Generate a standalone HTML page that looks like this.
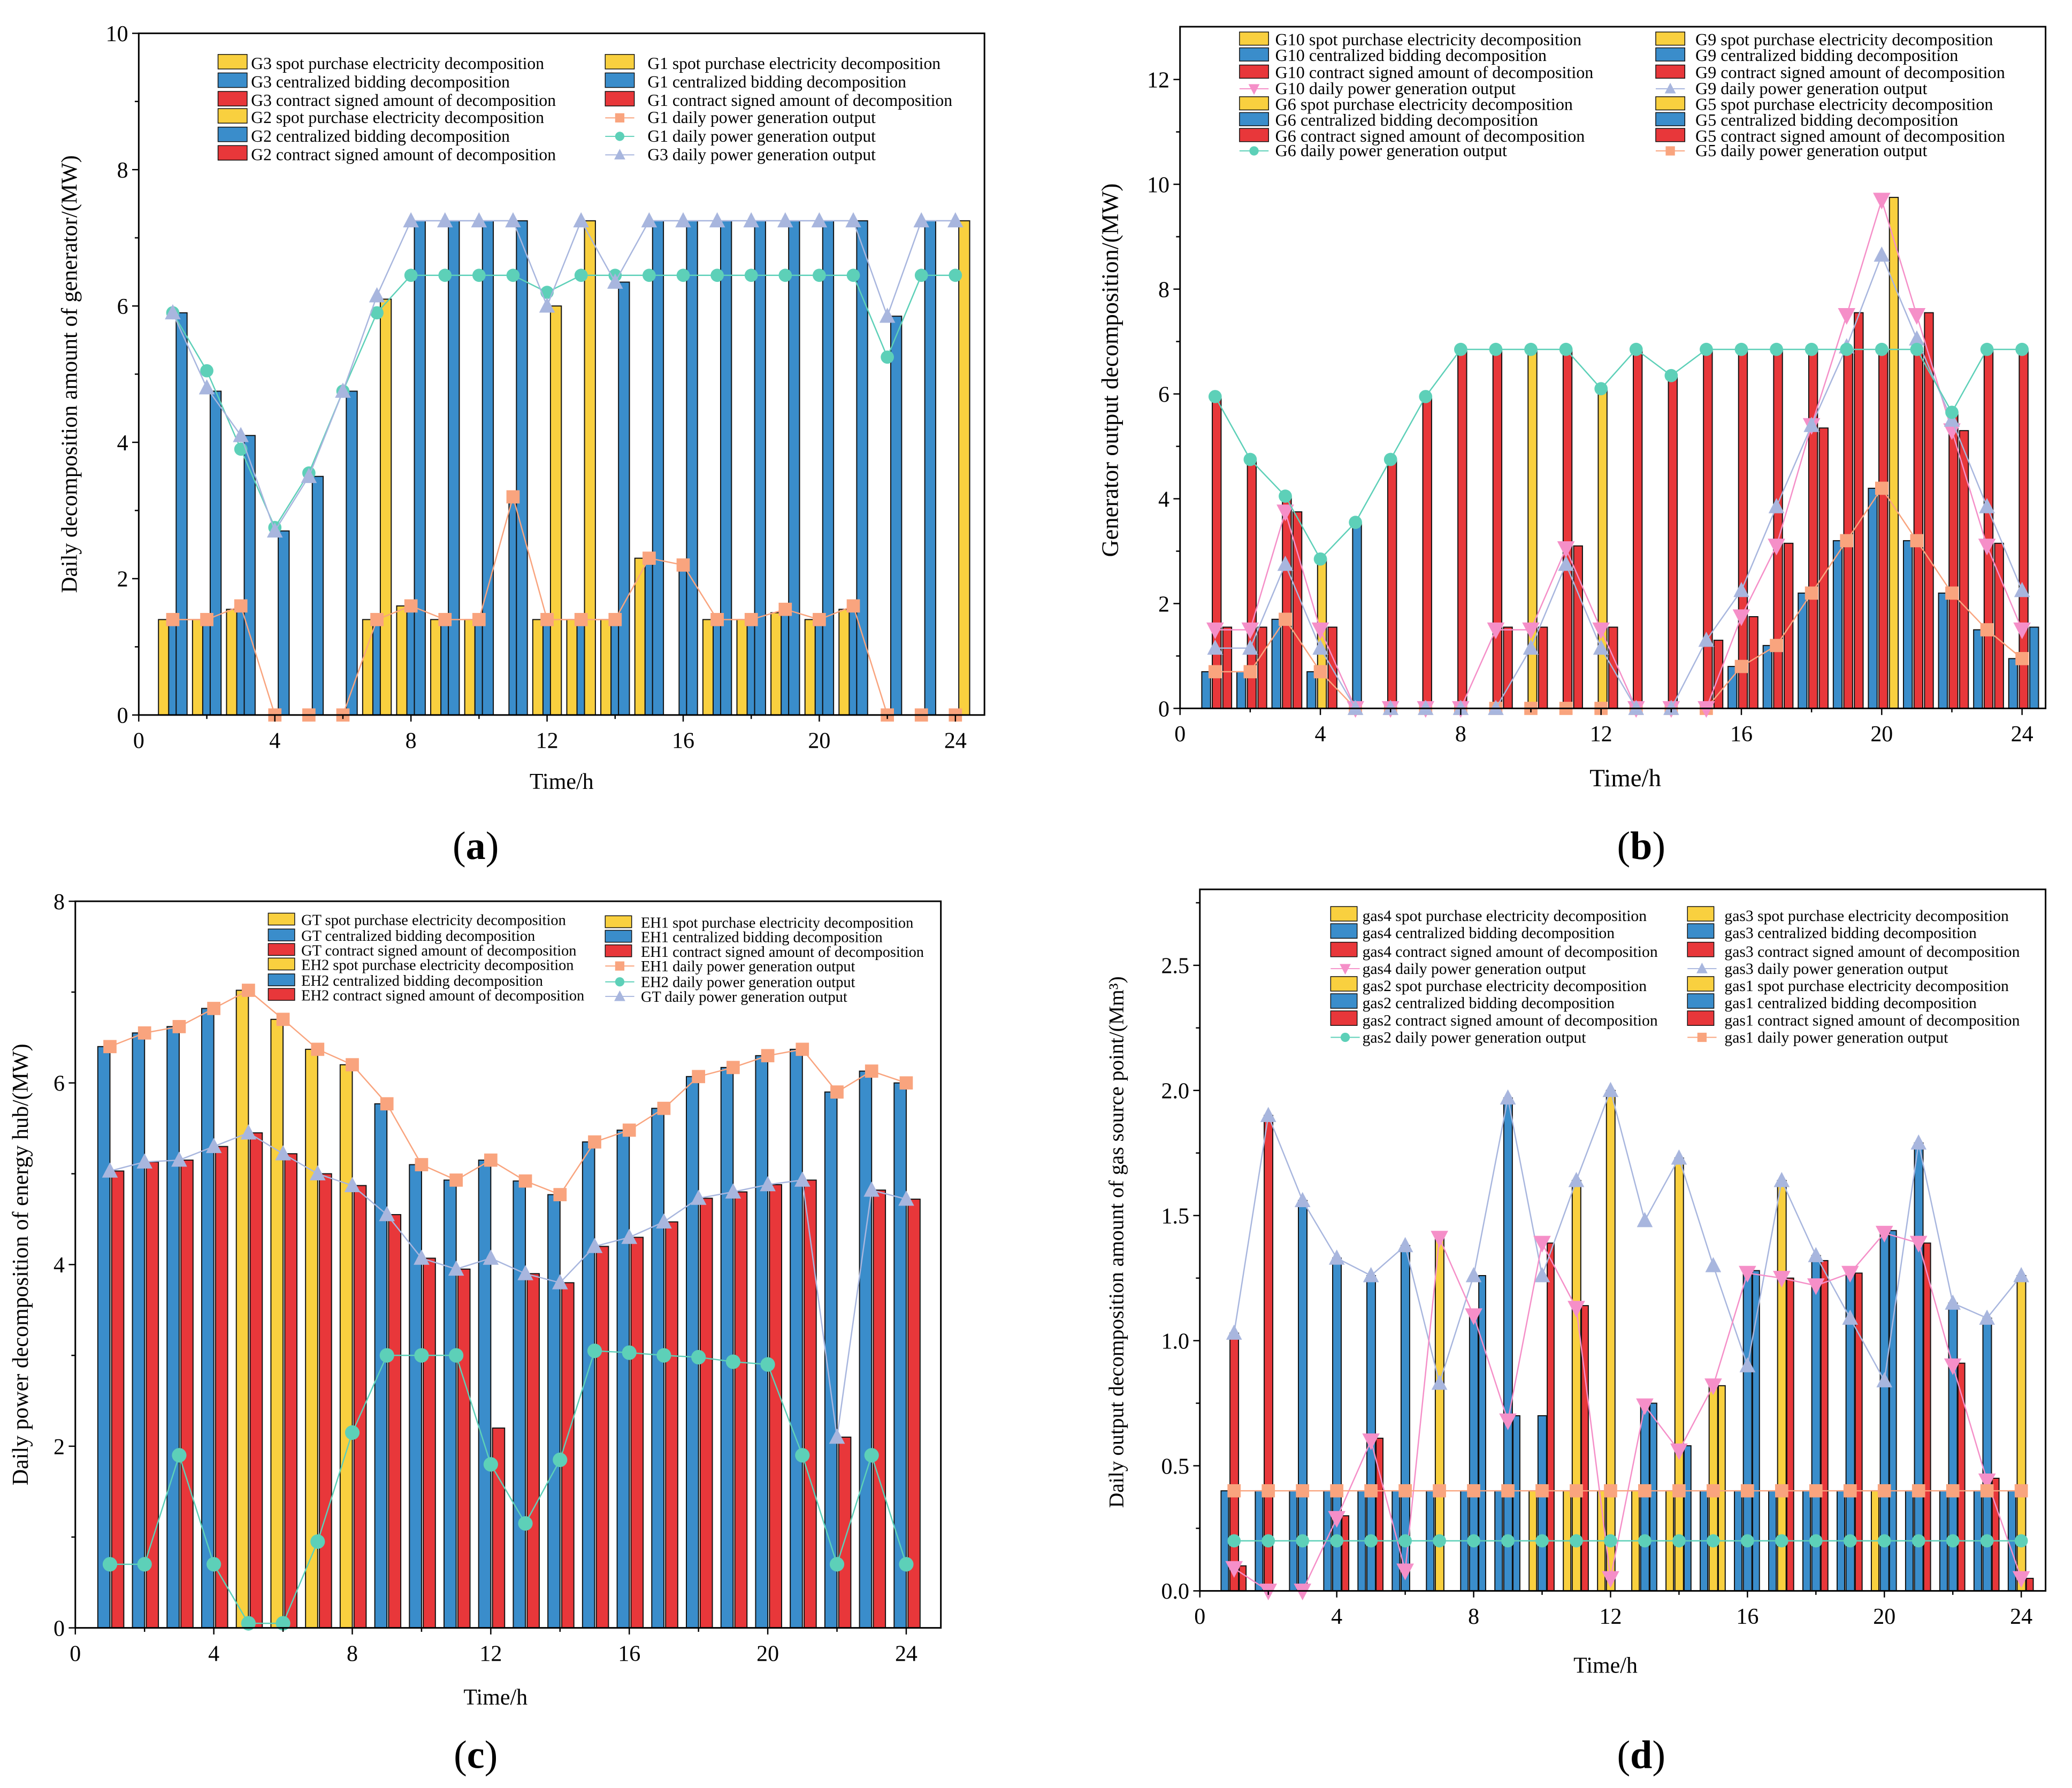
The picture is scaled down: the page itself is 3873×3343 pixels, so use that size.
<!DOCTYPE html>
<html><head><meta charset="utf-8">
<style>
html,body{margin:0;padding:0;background:#fff;}
svg{display:block;font-family:"Liberation Serif",serif;}
</style></head>
<body>
<svg id="s" xmlns="http://www.w3.org/2000/svg" width="3873" height="3343" viewBox="0 0 1568 1353">
<rect width="1568" height="1353" fill="#fff"/>
<g id="plots"></g>
<g font-size="17" fill="#000">
<text x="425" y="597" text-anchor="middle">Time/h</text>
<text x="1230" y="595" text-anchor="middle" font-size="19">Time/h</text>
<text x="375" y="1290" text-anchor="middle">Time/h</text>
<text x="1215" y="1266" text-anchor="middle">Time/h</text>
<text transform="translate(58,283) rotate(-90)" text-anchor="middle">Daily decomposition amount of generator/(MW)</text>
<text transform="translate(846,280) rotate(-90)" text-anchor="middle" font-size="18">Generator output decomposition/(MW)</text>
<text transform="translate(21,957) rotate(-90)" text-anchor="middle">Daily power decomposition of energy hub/(MW)</text>
<text transform="translate(850,940) rotate(-90)" text-anchor="middle" font-size="16">Daily output decomposition amount of gas source point/(Mm³)</text>
</g>
<g font-size="30" text-anchor="middle">
<text x="360" y="650">(<tspan font-weight="bold">a</tspan>)</text>
<text x="1242" y="650">(<tspan font-weight="bold">b</tspan>)</text>
<text x="360" y="1338">(<tspan font-weight="bold">c</tspan>)</text>
<text x="1242" y="1338">(<tspan font-weight="bold">d</tspan>)</text>
</g>
<g font-size="13">
<g font-size="12.8">
<text x="190" y="52">G3 spot purchase electricity decomposition</text>
<text x="190" y="66">G3 centralized bidding decomposition</text>
<text x="190" y="80">G3 contract signed amount of decomposition</text>
<text x="190" y="93">G2 spot purchase electricity decomposition</text>
<text x="190" y="107">G2 centralized bidding decomposition</text>
<text x="190" y="121">G2 contract signed amount of decomposition</text>
<text x="490" y="52">G1 spot purchase electricity decomposition</text>
<text x="490" y="66">G1 centralized bidding decomposition</text>
<text x="490" y="80">G1 contract signed amount of decomposition</text>
<text x="490" y="93">G1 daily power generation output</text>
<text x="490" y="107">G1 daily power generation output</text>
<text x="490" y="121">G3 daily power generation output</text>
</g>
<g font-size="13">
<text x="965" y="34">G10 spot purchase electricity decomposition</text>
<text x="965" y="46">G10 centralized bidding decomposition</text>
<text x="965" y="59">G10 contract signed amount of decomposition</text>
<text x="965" y="71">G10 daily power generation output</text>
<text x="965" y="83">G6 spot purchase electricity decomposition</text>
<text x="965" y="95">G6 centralized bidding decomposition</text>
<text x="965" y="107">G6 contract signed amount of decomposition</text>
<text x="965" y="118">G6 daily power generation output</text>
<text x="1283" y="34">G9 spot purchase electricity decomposition</text>
<text x="1283" y="46">G9 centralized bidding decomposition</text>
<text x="1283" y="59">G9 contract signed amount of decomposition</text>
<text x="1283" y="71">G9 daily power generation output</text>
<text x="1283" y="83">G5 spot purchase electricity decomposition</text>
<text x="1283" y="95">G5 centralized bidding decomposition</text>
<text x="1283" y="107">G5 contract signed amount of decomposition</text>
<text x="1283" y="118">G5 daily power generation output</text>
</g>
<g font-size="11.5">
<text x="228" y="700">GT spot purchase electricity decomposition</text>
<text x="228" y="712">GT centralized bidding decomposition</text>
<text x="228" y="723">GT contract signed amount of decomposition</text>
<text x="228" y="734">EH2 spot purchase electricity decomposition</text>
<text x="228" y="746">EH2 centralized bidding decomposition</text>
<text x="228" y="757">EH2 contract signed amount of decomposition</text>
<text x="485" y="702">EH1 spot purchase electricity decomposition</text>
<text x="485" y="713">EH1 centralized bidding decomposition</text>
<text x="485" y="724">EH1 contract signed amount of decomposition</text>
<text x="485" y="735">EH1 daily power generation output</text>
<text x="485" y="747">EH2 daily power generation output</text>
<text x="485" y="758">GT daily power generation output</text>
</g>
<g font-size="12">
<text x="1031" y="697">gas4 spot purchase electricity decomposition</text>
<text x="1031" y="710">gas4 centralized bidding decomposition</text>
<text x="1031" y="724">gas4 contract signed amount of decomposition</text>
<text x="1031" y="737">gas4 daily power generation output</text>
<text x="1031" y="750">gas2 spot purchase electricity decomposition</text>
<text x="1031" y="763">gas2 centralized bidding decomposition</text>
<text x="1031" y="776">gas2 contract signed amount of decomposition</text>
<text x="1031" y="789">gas2 daily power generation output</text>
<text x="1305" y="697">gas3 spot purchase electricity decomposition</text>
<text x="1305" y="710">gas3 centralized bidding decomposition</text>
<text x="1305" y="724">gas3 contract signed amount of decomposition</text>
<text x="1305" y="737">gas3 daily power generation output</text>
<text x="1305" y="750">gas1 spot purchase electricity decomposition</text>
<text x="1305" y="763">gas1 centralized bidding decomposition</text>
<text x="1305" y="776">gas1 contract signed amount of decomposition</text>
<text x="1305" y="789">gas1 daily power generation output</text>
</g>
</g>
<g id="leg"></g>
</svg>
<script>
var NS="http://www.w3.org/2000/svg";
var P=document.getElementById('plots'),L=document.getElementById('leg');
function el(p,n,a){var e=document.createElementNS(NS,n);for(var k in a)e.setAttribute(k,a[k]);p.appendChild(e);return e;}
var Y="#F9D03F",B="#3A8DCB",R="#E8373A",O="#F9A47E",G="#5DD0B8",T="#A8B6DE",K="#F58FC8";
function marker(g,sh,c,x,y,s){
 if(sh=='sq')el(g,'rect',{x:x-s,y:y-s,width:2*s,height:2*s,fill:c});
 else if(sh=='ci')el(g,'circle',{cx:x,cy:y,r:s,fill:c});
 else if(sh=='tu')el(g,'polygon',{points:(x-s*1.2)+','+(y+s)+' '+(x+s*1.2)+','+(y+s)+' '+x+','+(y-s*1.3),fill:c});
 else el(g,'polygon',{points:(x-s*1.2)+','+(y-s)+' '+(x+s*1.2)+','+(y-s)+' '+x+','+(y+s*1.3),fill:c});
}
function panel(c){
 var g=el(P,'g',{});
 var X=function(t){return c.x0+t*c.px;},Yv=function(v){return c.y0-v*c.py;};
 c.bars.forEach(function(b){
  b.v.forEach(function(v,i){var t=i+1;if(v<=0)return;
   var col=(b.col&&b.col[t])||b.c;
   el(g,'rect',{x:X(t+b.o),y:Yv(v),width:b.w*c.px,height:v*c.py,fill:col,stroke:'#111','stroke-width':0.8});});
 });
 c.lines.forEach(function(l){
  var pts=l.v.map(function(v,i){return X(i+1)+','+Yv(v);}).join(' ');
  el(g,'polyline',{points:pts,fill:'none',stroke:l.c,'stroke-width':1});
  l.v.forEach(function(v,i){marker(g,l.m,l.c,X(i+1),Yv(v),l.s||5);});
 });
 el(g,'rect',{x:c.x0,y:c.top,width:c.x1-c.x0,height:c.y0-c.top,fill:'none',stroke:'#000','stroke-width':1.2});
 for(var t=0;t<=24;t+=4){el(g,'line',{x1:X(t),x2:X(t),y1:c.y0,y2:c.y0+5,stroke:'#000'});
  var tx=el(g,'text',{x:X(t),y:c.y0+25,'text-anchor':'middle','font-size':17});tx.textContent=t;}
 for(var t=2;t<=24;t+=4)el(g,'line',{x1:X(t),x2:X(t),y1:c.y0,y2:c.y0+3,stroke:'#000'});
 c.yt.forEach(function(v){el(g,'line',{x1:c.x0-5,x2:c.x0,y1:Yv(v),y2:Yv(v),stroke:'#000'});
  var tx=el(g,'text',{x:c.x0-8,y:Yv(v)+6,'text-anchor':'end','font-size':17});tx.textContent=c.fmt?c.fmt(v):v;});
 (c.ym||[]).forEach(function(v){el(g,'line',{x1:c.x0-3,x2:c.x0,y1:Yv(v),y2:Yv(v),stroke:'#000'});});
}
var a3=[5.9,4.75,4.1,2.7,3.5,4.75,6.1,7.25,7.25,7.25,7.25,6.0,7.25,6.35,7.25,7.25,7.25,7.25,7.25,7.25,7.25,5.85,7.25,7.25];
var aO=[1.4,1.4,1.6,0,0,0,1.4,1.6,1.4,1.4,3.2,1.4,1.4,1.4,2.3,2.2,1.4,1.4,1.55,1.4,1.6,0,0,0];
panel({x0:105,x1:745,top:25,y0:541,px:25.75,py:51.6,yt:[0,2,4,6,8,10],ym:[1,3,5,7,9],
 bars:[{o:-0.42,w:0.3,c:Y,v:[1.4,1.4,1.55,0,0,0,1.4,1.6,1.4,1.4,0,1.4,1.4,1.4,2.3,0,1.4,1.4,1.5,1.4,1.55,0,0,0]},
 {o:-0.12,w:0.22,c:B,v:aO},
 {o:0.1,w:0.32,c:B,v:a3,col:{7:Y,12:Y,13:Y,24:Y}}],
 lines:[{c:O,m:'sq',v:aO},
 {c:G,m:'ci',v:[5.9,5.05,3.9,2.75,3.55,4.75,5.9,6.45,6.45,6.45,6.45,6.2,6.45,6.45,6.45,6.45,6.45,6.45,6.45,6.45,6.45,5.25,6.45,6.45]},
 {c:T,m:'tu',v:[5.9,4.8,4.1,2.7,3.5,4.75,6.15,7.25,7.25,7.25,7.25,6.0,7.25,6.35,7.25,7.25,7.25,7.25,7.25,7.25,7.25,5.85,7.25,7.25]}]});
var b5=[0.7,0.7,1.7,0.7,0,0,0,0,0,0,0,0,0,0,0,0.8,1.2,2.2,3.2,4.2,3.2,2.2,1.5,0.95];
var b6=[5.95,4.75,4.05,2.85,3.55,4.75,5.95,6.85,6.85,6.85,6.85,6.1,6.85,6.35,6.85,6.85,6.85,6.85,6.85,6.85,6.85,5.65,6.85,6.85];
panel({x0:893,x1:1548,top:20,y0:536,px:26.55,py:39.67,yt:[0,2,4,6,8,10,12],ym:[1,3,5,7,9,11],
 bars:[{o:-0.38,w:0.25,c:B,v:b5},
 {o:-0.08,w:0.25,c:R,v:b6,col:{4:Y,5:B,10:Y,12:Y}},
 {o:0.22,w:0.25,c:R,v:[1.55,1.55,3.75,1.55,0,0,0,0,1.55,1.55,3.1,1.55,0,0,1.3,1.75,3.15,5.35,7.55,9.75,7.55,5.3,3.15,1.55],col:{20:Y,24:B}}],
 lines:[{c:O,m:'sq',v:b5},
 {c:K,m:'td',s:5.5,v:[1.5,1.5,3.75,1.5,0,0,0,0,1.5,1.5,3.05,1.5,0,0,0,1.75,3.1,5.4,7.5,9.7,7.5,5.3,3.1,1.5]},
 {c:T,m:'tu',v:[1.15,1.15,2.75,1.15,0,0,0,0,0,1.15,2.75,1.15,0,0,1.3,2.25,3.85,5.4,6.9,8.65,7.05,5.5,3.85,2.25]},
 {c:G,m:'ci',v:b6}]});
var c1=[6.4,6.55,6.62,6.82,7.02,6.7,6.37,6.2,5.77,5.1,4.93,5.15,4.92,4.77,5.35,5.48,5.72,6.07,6.17,6.3,6.37,5.9,6.13,6.0];
var cT=[5.03,5.13,5.15,5.3,5.45,5.22,5.0,4.87,4.55,4.07,3.95,4.07,3.9,3.8,4.2,4.3,4.47,4.73,4.8,4.88,4.93,2.1,4.82,4.72];
panel({x0:57,x1:712,top:682,y0:1232,px:26.2,py:68.75,yt:[0,2,4,6,8],ym:[1,3,5,7],
 bars:[{o:-0.35,w:0.35,c:B,v:c1,col:{5:Y,6:Y,7:Y,8:Y}},
 {o:0.05,w:0.35,c:R,v:[5.03,5.13,5.15,5.3,5.45,5.22,5.0,4.87,4.55,4.07,3.95,2.2,3.9,3.8,4.2,4.3,4.47,4.73,4.8,4.88,4.93,2.1,4.82,4.72]}],
 lines:[{c:O,m:'sq',v:c1},{c:T,m:'tu',v:cT},
 {c:G,m:'ci',s:5.5,v:[0.7,0.7,1.9,0.7,0.05,0.05,0.95,2.15,3.0,3.0,3.0,1.8,1.15,1.85,3.05,3.03,3.0,2.98,2.93,2.9,1.9,0.7,1.9,0.7]}]});
var d3=[1.03,1.9,1.56,1.33,1.26,1.38,0.83,1.26,1.97,1.26,1.64,2.0,1.48,1.73,1.3,0.9,1.64,1.34,1.09,0.84,1.79,1.15,1.09,1.26];
var d4=[0.09,0.0,0.0,0.29,0.6,0.08,1.41,1.1,0.68,1.39,1.13,0.05,0.74,0.56,0.82,1.27,1.25,1.22,1.27,1.43,1.39,0.9,0.44,0.05];
var f4=[];for(var i=0;i<24;i++)f4.push(0.4);
var f2=[];for(var i=0;i<24;i++)f2.push(0.2);
panel({x0:908,x1:1548,top:673,y0:1204,px:25.9,py:189.4,yt:[0,0.5,1,1.5,2,2.5],ym:[0.25,0.75,1.25,1.75,2.25,2.75],fmt:function(v){return v.toFixed(1);},
 bars:[{o:-0.38,w:0.22,c:B,v:f4,col:{10:Y,11:Y,12:Y,13:Y,14:Y,20:Y}},
 {o:-0.12,w:0.25,c:B,v:[1.03,1.9,1.56,1.33,1.26,1.38,1.42,1.12,1.97,0.7,1.64,2.0,0.75,1.73,0.82,1.28,1.64,1.34,1.27,1.44,1.79,1.15,1.09,1.26],col:{1:R,2:R,7:Y,11:Y,12:Y,14:Y,15:Y,17:Y,24:Y}},
 {o:0.15,w:0.2,c:R,v:[0.1,0,0,0.3,0.61,0,0,1.26,0.7,1.39,1.14,0,0.75,0.58,0.82,1.28,1.25,1.32,1.27,1.44,1.39,0.91,0.45,0.05],col:{8:B,9:B,13:B,14:B,15:Y,16:B,20:B}}],
 lines:[{c:T,m:'tu',v:d3},{c:K,m:'td',s:5.5,v:d4},{c:O,m:'sq',v:f4},{c:G,m:'ci',v:f2}]});
function sw(x,y,c,w,h){el(L,'rect',{x:x,y:y-h+1,width:w,height:h-1,fill:c,stroke:'#111','stroke-width':0.6});}
function lm(x,y,c,m){el(L,'line',{x1:x,x2:x+22,y1:y-4,y2:y-4,stroke:c,'stroke-width':0.8});marker(L,m,c,x+11,y-4,3.5);}
function col(x,ys,items,w,h){items.forEach(function(it,i){if(it[1])lm(x,ys[i],it[0],it[1]);else sw(x,ys[i],it[0],w,h);});}
col(165,[52,66,80,93,107,121],[[Y],[B],[R],[Y],[B],[R]],22,12);
col(458,[52,66,80,93,107,121],[[Y],[B],[R],[O,'sq'],[G,'ci'],[T,'tu']],22,12);
var yb=[34,46,59,71,83,95,107,118];
col(938,yb,[[Y],[B],[R],[K,'td'],[Y],[B],[R],[G,'ci']],22,11);
col(1253,yb,[[Y],[B],[R],[T,'tu'],[Y],[B],[R],[O,'sq']],22,11);
col(203,[700,712,723,734,746,757],[[Y],[B],[R],[Y],[B],[R]],20,10);
col(458,[702,713,724,735,747,758],[[Y],[B],[R],[O,'sq'],[G,'ci'],[T,'tu']],20,10);
var yd=[697,710,724,737,750,763,776,789];
col(1007,yd,[[Y],[B],[R],[K,'td'],[Y],[B],[R],[G,'ci']],20,12);
col(1277,yd,[[Y],[B],[R],[T,'tu'],[Y],[B],[R],[O,'sq']],20,12);
</script>
</body></html>
